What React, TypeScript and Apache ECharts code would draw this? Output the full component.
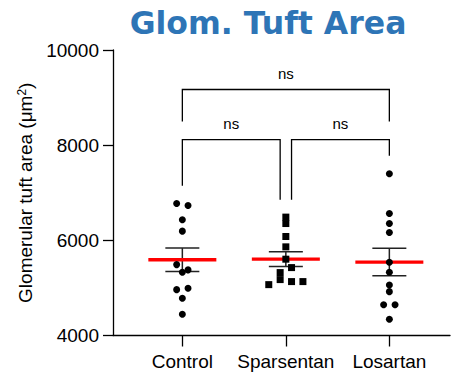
import React, { useEffect, useRef } from 'react';
import * as echarts from 'echarts';

const categories = ['Control', 'Sparsentan', 'Losartan'];
const controlValues = [6774, 6732, 6431, 6193, 5490, 5379, 5330, 4964, 4994, 4783, 4446];
const sparsentanValues = [6488, 6353, 6080, 5863, 5604, 5322, 5427, 5069, 5175, 5133, 5133];
const losartanValues = [7400, 6564, 6353, 6164, 5541, 5330, 5063, 4922, 4648, 4648, 4341];
const groupValues = [controlValues, sparsentanValues, losartanValues];
const groupSymbols = ['circle', 'rect', 'circle'];
const yTicks = [4000, 6000, 8000, 10000];

const comparisonPairs = [[0, 2], [0, 1], [1, 2]];
const comparisonLabels = ['ns', 'ns', 'ns'];
const comparisonLevels = [9170, 8115, 8115];
const comparisonLegEnds = [[8500, 8500], [7147, 6852], [6852, 7779]];

const FONT = 'Liberation Sans, Arial, sans-serif';

function swarmOffsets(values: number[], bin: number, step: number): number[] {
  const idx = values.map((_, i) => i).sort((a, b) => values[b] - values[a]);
  const offsets = new Array(values.length).fill(0);
  let i = 0;
  while (i < idx.length) {
    const start = values[idx[i]];
    const group = [idx[i]];
    let j = i + 1;
    while (j < idx.length && start - values[idx[j]] < bin) {
      group.push(idx[j]);
      j++;
    }
    group.sort((a, b) => a - b);
    group.forEach((g, k) => {
      offsets[g] = (k - (group.length - 1) / 2) * step;
    });
    i = j;
  }
  return offsets;
}

function mean(v: number[]) {
  return v.reduce((a, b) => a + b, 0) / v.length;
}
function sem(v: number[]) {
  const m = mean(v);
  const sd = Math.sqrt(v.reduce((a, b) => a + (b - m) * (b - m), 0) / (v.length - 1));
  return sd / Math.sqrt(v.length);
}

export default function App() {
  const ref = useRef<HTMLDivElement>(null);
  useEffect(() => {
    if (!ref.current) return;
    const chart = echarts.init(ref.current, null, { renderer: 'svg' });

    const scatterSeries = groupValues.map((vals, g) => {
      const offs = swarmOffsets(vals, 126, 0.11);
      return {
        type: 'scatter',
        name: categories[g],
        symbol: groupSymbols[g],
        symbolSize: 7,
        itemStyle: { color: '#000', opacity: 1 },
        z: 5,
        data: vals.map((v, i) => [g + 1 + offs[i], v]),
      };
    });

    const statsData = groupValues.map((vals, g) => [g + 1, mean(vals), sem(vals)]);

    const inset = 0.055;
    const bracketX = comparisonPairs.map((p, k) => {
      let xa = p[0] + 1;
      let xb = p[1] + 1;
      comparisonPairs.forEach((q, m) => {
        if (m === k || comparisonLevels[m] !== comparisonLevels[k]) return;
        if (q[1] === p[0]) xa += inset;
        if (q[0] === p[1]) xb -= inset;
      });
      return [xa, xb];
    });

    const option: any = {
      animation: false,
      graphic: [
        {
          type: 'text',
          x: 268,
          y: 22.5,
          style: {
            text: 'Glom. Tuft Area',
            fontSize: 31.5,
            fontWeight: 'bold',
            fontFamily: 'DejaVu Sans, Verdana, sans-serif',
            fill: '#2E75B6',
            align: 'center',
            verticalAlign: 'middle',
          },
        },
      ],
      grid: { left: 113, right: 4, top: 50, bottom: 38.5, containLabel: false, outerBoundsMode: 'none' },
      xAxis: {
        type: 'value',
        min: 0.33,
        max: 3.586,
        axisLine: { show: true, onZero: false, lineStyle: { color: '#000', width: 1.3 } },
        axisTick: {
          show: true,
          length: 11,
          customValues: categories.map((_, i) => i + 1),
          lineStyle: { color: '#000', width: 1.3 },
        },
        axisLabel: {
          customValues: categories.map((_, i) => i + 1),
          formatter: (v: number) => categories[Math.round(v) - 1] ?? '',
          fontSize: 19,
          fontFamily: FONT,
          color: '#000',
          margin: 16,
        },
        splitLine: { show: false },
      },
      yAxis: {
        type: 'value',
        min: yTicks[0],
        max: yTicks[yTicks.length - 1],
        interval: yTicks[1] - yTicks[0],
        name: 'Glomerular tuft area (μm{sup|2})',
        nameLocation: 'middle',
        nameGap: 71,
        nameRotate: 90,
        nameTextStyle: {
          fontSize: 19,
          fontFamily: FONT,
          color: '#000',
          rich: {
            sup: { fontSize: 12, fontFamily: FONT, color: '#000', verticalAlign: 'top' },
          },
        },
        axisLine: { show: true, lineStyle: { color: '#000', width: 1.3 } },
        axisTick: { show: true, length: 10, lineStyle: { color: '#000', width: 1.3 } },
        axisLabel: {
          fontSize: 19,
          fontFamily: FONT,
          color: '#000',
          margin: 14,
          formatter: (v: number) => String(v),
        },
        splitLine: { show: false },
      },
      series: [
        {
          type: 'custom',
          z: 3,
          clip: false,
          data: statsData,
          encode: { x: 0, y: 1 },
          renderItem: (params: any, api: any) => {
            const x = api.value(0);
            const m = api.value(1);
            const s = api.value(2);
            const c = api.coord([x, m]);
            const top = api.coord([x, m + s]);
            const bot = api.coord([x, m - s]);
            const bar = { stroke: '#222', lineWidth: 1.5 };
            return {
              type: 'group',
              children: [
                { type: 'line', shape: { x1: c[0], y1: top[1], x2: c[0], y2: bot[1] }, style: bar },
                { type: 'line', shape: { x1: c[0] - 17, y1: top[1], x2: c[0] + 17, y2: top[1] }, style: bar },
                { type: 'line', shape: { x1: c[0] - 17, y1: bot[1], x2: c[0] + 17, y2: bot[1] }, style: bar },
                {
                  type: 'line',
                  shape: { x1: c[0] - 34, y1: c[1], x2: c[0] + 34, y2: c[1] },
                  style: { stroke: '#FF0000', lineWidth: 3.3 },
                },
              ],
            };
          },
        },
        {
          type: 'custom',
          z: 2,
          clip: false,
          data: comparisonPairs.map((p, k) => [(p[0] + p[1]) / 2 + 1, comparisonLevels[k]]),
          encode: { x: 0, y: 1 },
          renderItem: (params: any, api: any) => {
            const k = params.dataIndex;
            const [xa, xb] = bracketX[k];
            const lvl = comparisonLevels[k];
            const a = api.coord([xa, lvl]);
            const b = api.coord([xb, lvl]);
            const la = api.coord([xa, comparisonLegEnds[k][0]]);
            const lb = api.coord([xb, comparisonLegEnds[k][1]]);
            return {
              type: 'group',
              children: [
                {
                  type: 'polyline',
                  shape: { points: [[la[0], la[1]], [a[0], a[1]], [b[0], b[1]], [lb[0], lb[1]]] },
                  style: { stroke: '#000', lineWidth: 1.3, fill: 'none' },
                },
                {
                  type: 'text',
                  x: (a[0] + b[0]) / 2,
                  y: a[1] - 16,
                  style: {
                    text: comparisonLabels[k],
                    fontSize: 15,
                    fontFamily: FONT,
                    fill: '#000',
                    align: 'center',
                    verticalAlign: 'middle',
                  },
                },
              ],
            };
          },
        },
        ...scatterSeries,
      ],
    };
    chart.setOption(option);
    return () => chart.dispose();
  }, []);

  return (
    <div
      ref={ref}
      style={{ position: 'fixed', left: 0, top: 0, width: 454, height: 374, background: '#fff' }}
    />
  );
}
